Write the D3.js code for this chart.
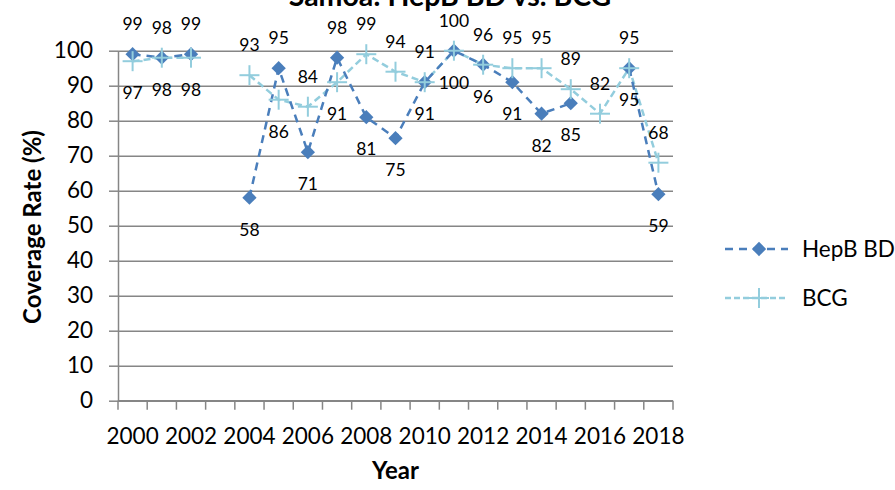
<!DOCTYPE html>
<html>
<head>
<meta charset="utf-8">
<script src="https://cdn.jsdelivr.net/npm/d3@7"></script>
<style>
	body { margin: 0; background: #fff; }
	svg { display: block; font-family: Lato, "Open Sans", sans-serif; }
</style>
</head>
<body>
<svg id="chart" width="895" height="490"></svg>
<script>
// Years (category axis)
var years = d3.range(2000, 2019);

// Coverage rates, null = no data
var hepB = [99, 98, 99, null, 58, 95, 71, 98, 81, 75, 91, 100, 96, 91, 82, 85, null, 95, 59];
var bcg  = [97, 98, 98, null, 93, 86, 84, 91, 99, 94, 91, 100, 96, 95, 95, 89, 82, 95, 68];

var yTicks = d3.range(0, 101, 10);
var xLabels = years.filter(function(d) { return d % 2 === 0; });

var seriesNames = ["HepB BD", "BCG"];

var svg = d3.select("#chart");

// Plot area
var margin = { left: 118, right: 673, top: 50.7, bottom: 400.7 };

var x = d3.scaleBand().domain(years).range([margin.left, margin.right]);
var y = d3.scaleLinear().domain([0, 100]).range([margin.bottom, margin.top]);

var grey = "#868686";
var blue = "#4a7ebb";
var light = "#93cddd";

// Gridlines
svg.append("g")
	.attr("transform", "translate(" + margin.left + ",0)")
	.call(d3.axisLeft(y).tickValues(yTicks).tickSize(-(margin.right - margin.left)).tickFormat(""))
	.call(function(g) { g.select(".domain").remove(); })
	.selectAll("line")
		.attr("stroke", grey)
		.attr("stroke-width", 1.5);

// Y axis
var yAxis = svg.append("g")
	.attr("transform", "translate(" + margin.left + ",0)")
	.call(d3.axisLeft(y).tickValues(yTicks).tickSize(9).tickSizeOuter(0).tickPadding(16));
yAxis.select(".domain").attr("stroke", grey).attr("stroke-width", 1.5);
yAxis.selectAll("line").attr("stroke", grey).attr("stroke-width", 1.5);
yAxis.selectAll("text")
	.attr("fill", "#000")
	.style("font-size", "22.5px")
	.style("font-family", "Lato");

// X axis line + ticks at category boundaries
svg.append("line")
	.attr("x1", margin.left).attr("x2", margin.right)
	.attr("y1", margin.bottom).attr("y2", margin.bottom)
	.attr("stroke", grey).attr("stroke-width", 1.5);

svg.append("g").selectAll("line")
	.data(d3.range(years.length + 1))
	.enter().append("line")
		.attr("x1", function(d) { return margin.left + d * x.step(); })
		.attr("x2", function(d) { return margin.left + d * x.step(); })
		.attr("y1", margin.bottom)
		.attr("y2", margin.bottom + 9)
		.attr("stroke", grey)
		.attr("stroke-width", 1.5);

svg.append("g").selectAll("text")
	.data(xLabels)
	.enter().append("text")
		.attr("x", function(d) { return x(d) + x.bandwidth() / 2; })
		.attr("y", 444)
		.attr("text-anchor", "middle")
		.style("font-size", "22.5px")
		.text(function(d) { return d; });

// Axis titles
svg.append("text")
	.attr("x", (margin.left + margin.right) / 2)
	.attr("y", 479)
	.attr("text-anchor", "middle")
	.style("font-size", "24px")
	.style("font-weight", "bold")
	.text("Year");

svg.append("text")
	.attr("transform", "translate(41,227) rotate(-90)")
	.attr("text-anchor", "middle")
	.style("font-size", "24px")
	.style("font-weight", "bold")
	.text("Coverage Rate (%)");

// Title (clipped at the top like the original)
svg.append("text")
	.attr("x", 450)
	.attr("y", 6)
	.attr("text-anchor", "middle")
	.style("font-size", "28.5px")
	.style("font-weight", "bold")
	.text("Samoa: HepB BD vs. BCG");

function cx(i) { return x(years[i]) + x.bandwidth() / 2; }

var line = d3.line()
	.defined(function(d) { return d != null; })
	.x(function(d, i) { return cx(i); })
	.y(function(d) { return y(d); });

// BCG line
svg.append("path")
	.datum(bcg)
	.attr("fill", "none")
	.attr("stroke", light)
	.attr("stroke-width", 2.5)
	.attr("stroke-dasharray", "7,4")
	.attr("d", line);

// HepB line
svg.append("path")
	.datum(hepB)
	.attr("fill", "none")
	.attr("stroke", blue)
	.attr("stroke-width", 2.5)
	.attr("stroke-dasharray", "8,6")
	.attr("d", line);

var diamond = d3.symbol().type(d3.symbolDiamond2).size(130);

function plus(sel, s) {
	sel.append("line").attr("x1", -s).attr("x2", s).attr("y1", 0).attr("y2", 0);
	sel.append("line").attr("x1", 0).attr("x2", 0).attr("y1", -s).attr("y2", s);
}

// HepB markers
years.forEach(function(yr, i) {
	if (hepB[i] == null) return;
	svg.append("path")
		.attr("d", diamond)
		.attr("transform", "translate(" + cx(i) + "," + y(hepB[i]) + ")")
		.attr("fill", blue);
});

// BCG markers (plus)
years.forEach(function(yr, i) {
	if (bcg[i] == null) return;
	var g = svg.append("g")
		.attr("transform", "translate(" + cx(i) + "," + y(bcg[i]) + ")")
		.attr("stroke", light)
		.attr("stroke-width", 2);
	plus(g, 10);
});

// Data labels: higher value above, lower value below
function addLabels(vals, other, isFirst) {
	years.forEach(function(yr, i) {
		var v = vals[i];
		if (v == null) return;
		var o = other[i];
		var above = o == null || v > o || (v === o && isFirst);
		svg.append("text")
			.attr("x", cx(i))
			.attr("y", y(v) + (above ? -30 : 32))
			.attr("dy", "0.35em")
			.attr("text-anchor", "middle")
			.style("font-size", "17.5px")
			.text(v);
	});
}
addLabels(hepB, bcg, true);
addLabels(bcg, hepB, false);

// Legend
var legend = svg.append("g").selectAll("g")
	.data(seriesNames)
	.enter().append("g")
		.attr("transform", function(d, i) { return "translate(0," + (249 + i * 49) + ")"; });

legend.append("line")
	.attr("x1", 725).attr("x2", 788)
	.attr("stroke", function(d, i) { return i === 0 ? blue : light; })
	.attr("stroke-width", 2.5)
	.attr("stroke-dasharray", function(d, i) { return i === 0 ? "8,6" : "6,3"; });

legend.each(function(d, i) {
	var g = d3.select(this);
	if (i === 0) {
		g.append("path").attr("d", diamond).attr("transform", "translate(759,0)").attr("fill", blue);
	} else {
		var p = g.append("g").attr("transform", "translate(759,0)").attr("stroke", light).attr("stroke-width", 2);
		plus(p, 10);
	}
});

legend.append("text")
	.attr("x", 802)
	.attr("y", 7.5)
	.style("font-size", "22.5px")
	.text(function(d) { return d; });
</script>
</body>
</html>
